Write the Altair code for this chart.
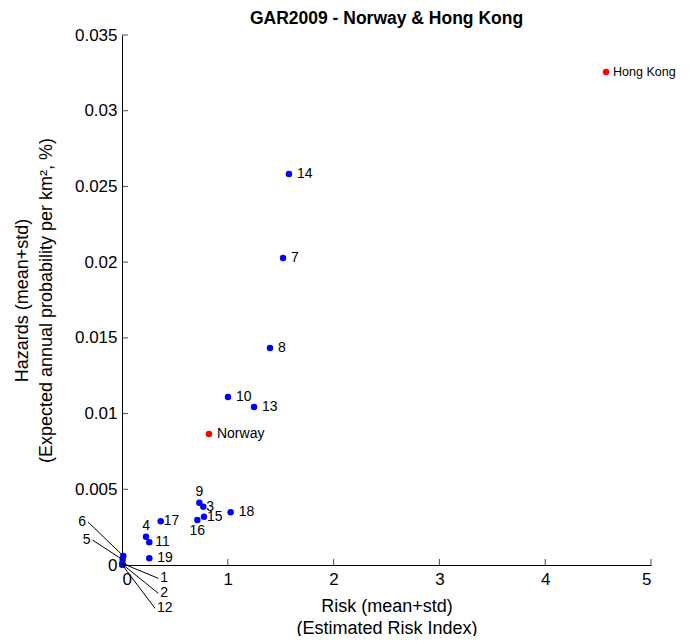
import altair as alt
import pandas as pd

# ---- data ----
names = ["Hong Kong", "Norway", "14", "7", "8", "10", "13", "9", "3", "15",
         "16", "18", "17", "4", "11", "19", "6", "5", "1", "2", "12"]
risk = [4.575, 0.822, 1.578, 1.522, 1.399, 1.002, 1.248, 0.731, 0.769, 0.775,
        0.712, 1.027, 0.366, 0.227, 0.258, 0.258, 0.012, 0.006, 0.004, 0.003, 0.002]
hazard = [0.03256, 0.00865, 0.02582, 0.02027, 0.01433, 0.01109, 0.01043, 0.00411,
          0.00385, 0.00319, 0.00297, 0.00348, 0.00289, 0.00187, 0.00150, 0.00044,
          0.00060, 0.00035, 0.00010, 0.00005, 0.00001]
group = ["country", "country"] + ["region"] * 19
label_side = ["edge", "right", "right", "right", "right", "right", "right", "above",
              "near", "near", "below", "right", "near", "above", "mid", "right",
              "callout", "callout", "callout", "callout", "callout"]

# callouts for the points crowded at the origin (label anchor in data units)
callout_names = ["6", "5", "1", "2", "12"]
callout_x = [-0.321, -0.279, 0.343, 0.343, 0.312]
callout_y = [0.00284, 0.00165, -0.00088, -0.00187, -0.00286]
callout_side = ["left", "left", "right", "right", "right"]

x_ticks = [0, 1, 2, 3, 4, 5]
y_ticks = [0, 0.005, 0.01, 0.015, 0.02, 0.025, 0.03, 0.035]

pts = pd.DataFrame({"name": names, "risk": risk, "hazard": hazard,
                    "group": group, "side": label_side})
pt_lookup = {n: (r, h) for n, r, h in zip(names, risk, hazard)}
co = pd.DataFrame({
    "name": callout_names,
    "lx": callout_x, "ly": callout_y, "side": callout_side,
    "px": [pt_lookup[n][0] for n in callout_names],
    "py": [pt_lookup[n][1] for n in callout_names],
})
xt = pd.DataFrame({"v": x_ticks})
yt = pd.DataFrame({"v": y_ticks})

FONT = "Liberation Sans"
LABEL_SIZE = 14
xscale = alt.Scale(domain=[0, 5], nice=False, zero=False)
yscale = alt.Scale(domain=[0, 0.035], nice=False, zero=False)

X = alt.X("risk:Q", scale=xscale,
          axis=alt.Axis(values=x_ticks, format="~g",
                        title=["Risk (mean+std)", "(Estimated Risk Index)"]))
Y = alt.Y("hazard:Q", scale=yscale,
          axis=alt.Axis(values=y_ticks, format="~g",
                        title=["Hazards (mean+std)",
                               "(Expected annual probability per km², %)"]))

base = alt.Chart(pts)

points = base.mark_circle(size=42, opacity=1).encode(
    x=X, y=Y,
    color=alt.Color("group:N", scale=alt.Scale(domain=["country", "region"],
                                               range=["#ff0000", "#0000ff"]),
                    legend=None),
)

def lab(side, size=LABEL_SIZE, **kw):
    return base.transform_filter(alt.datum.side == side).mark_text(
        font=FONT, fontSize=size, color="black", baseline="middle", **kw
    ).encode(x="risk:Q", y="hazard:Q", text="name:N")

labels = [
    lab("right", align="left", dx=8),
    lab("edge", size=12.5, align="left", dx=7),
    lab("near", align="left", dx=3),
    lab("mid", align="left", dx=6),
    lab("above", align="center", dy=-11),
    lab("below", align="center", dy=11),
]

rules = alt.Chart(co).mark_rule(color="black", strokeWidth=1).encode(
    x="px:Q", y="py:Q", x2="lx:Q", y2="ly:Q")
co_left = alt.Chart(co).transform_filter(alt.datum.side == "left").mark_text(
    font=FONT, fontSize=LABEL_SIZE, color="black", align="right", baseline="middle", dx=-2
).encode(x="lx:Q", y="ly:Q", text="name:N")
co_right = alt.Chart(co).transform_filter(alt.datum.side == "right").mark_text(
    font=FONT, fontSize=LABEL_SIZE, color="black", align="left", baseline="middle", dx=2
).encode(x="lx:Q", y="ly:Q", text="name:N")

xticks = alt.Chart(xt).mark_tick(orient="vertical", size=6, thickness=1,
                                 color="black", yOffset=-3).encode(
    x=alt.X("v:Q", scale=xscale), y=alt.datum(0))
yticks = alt.Chart(yt).mark_tick(orient="horizontal", size=6, thickness=1,
                                 color="black", xOffset=3).encode(
    y=alt.Y("v:Q", scale=yscale), x=alt.datum(0))

chart = alt.layer(points, *labels, rules, co_left, co_right, xticks, yticks).properties(
    width=529, height=530,
    title=alt.TitleParams("GAR2009 - Norway & Hong Kong", font=FONT, fontSize=17.5,
                          fontWeight="bold", color="black", offset=-1),
    autosize=alt.AutoSizeParams(type="none"),
    padding={"left": 114, "top": 27, "right": 31, "bottom": 71},
).configure_view(stroke=None).configure_axis(
    grid=False, ticks=False, domainColor="black", domainWidth=1,
    labelFont=FONT, labelFontSize=17, labelColor="black",
    titleFont=FONT, titleFontSize=18, titleColor="black",
    titleFontWeight="normal",
).configure_axisX(labelPadding=6, titlePadding=10, labelAngle=0, titleLineHeight=22
).configure_axisY(labelPadding=5, titlePadding=19, titleLineHeight=24)

chart.save("out.html", embed_options={"renderer": "svg", "actions": False})
